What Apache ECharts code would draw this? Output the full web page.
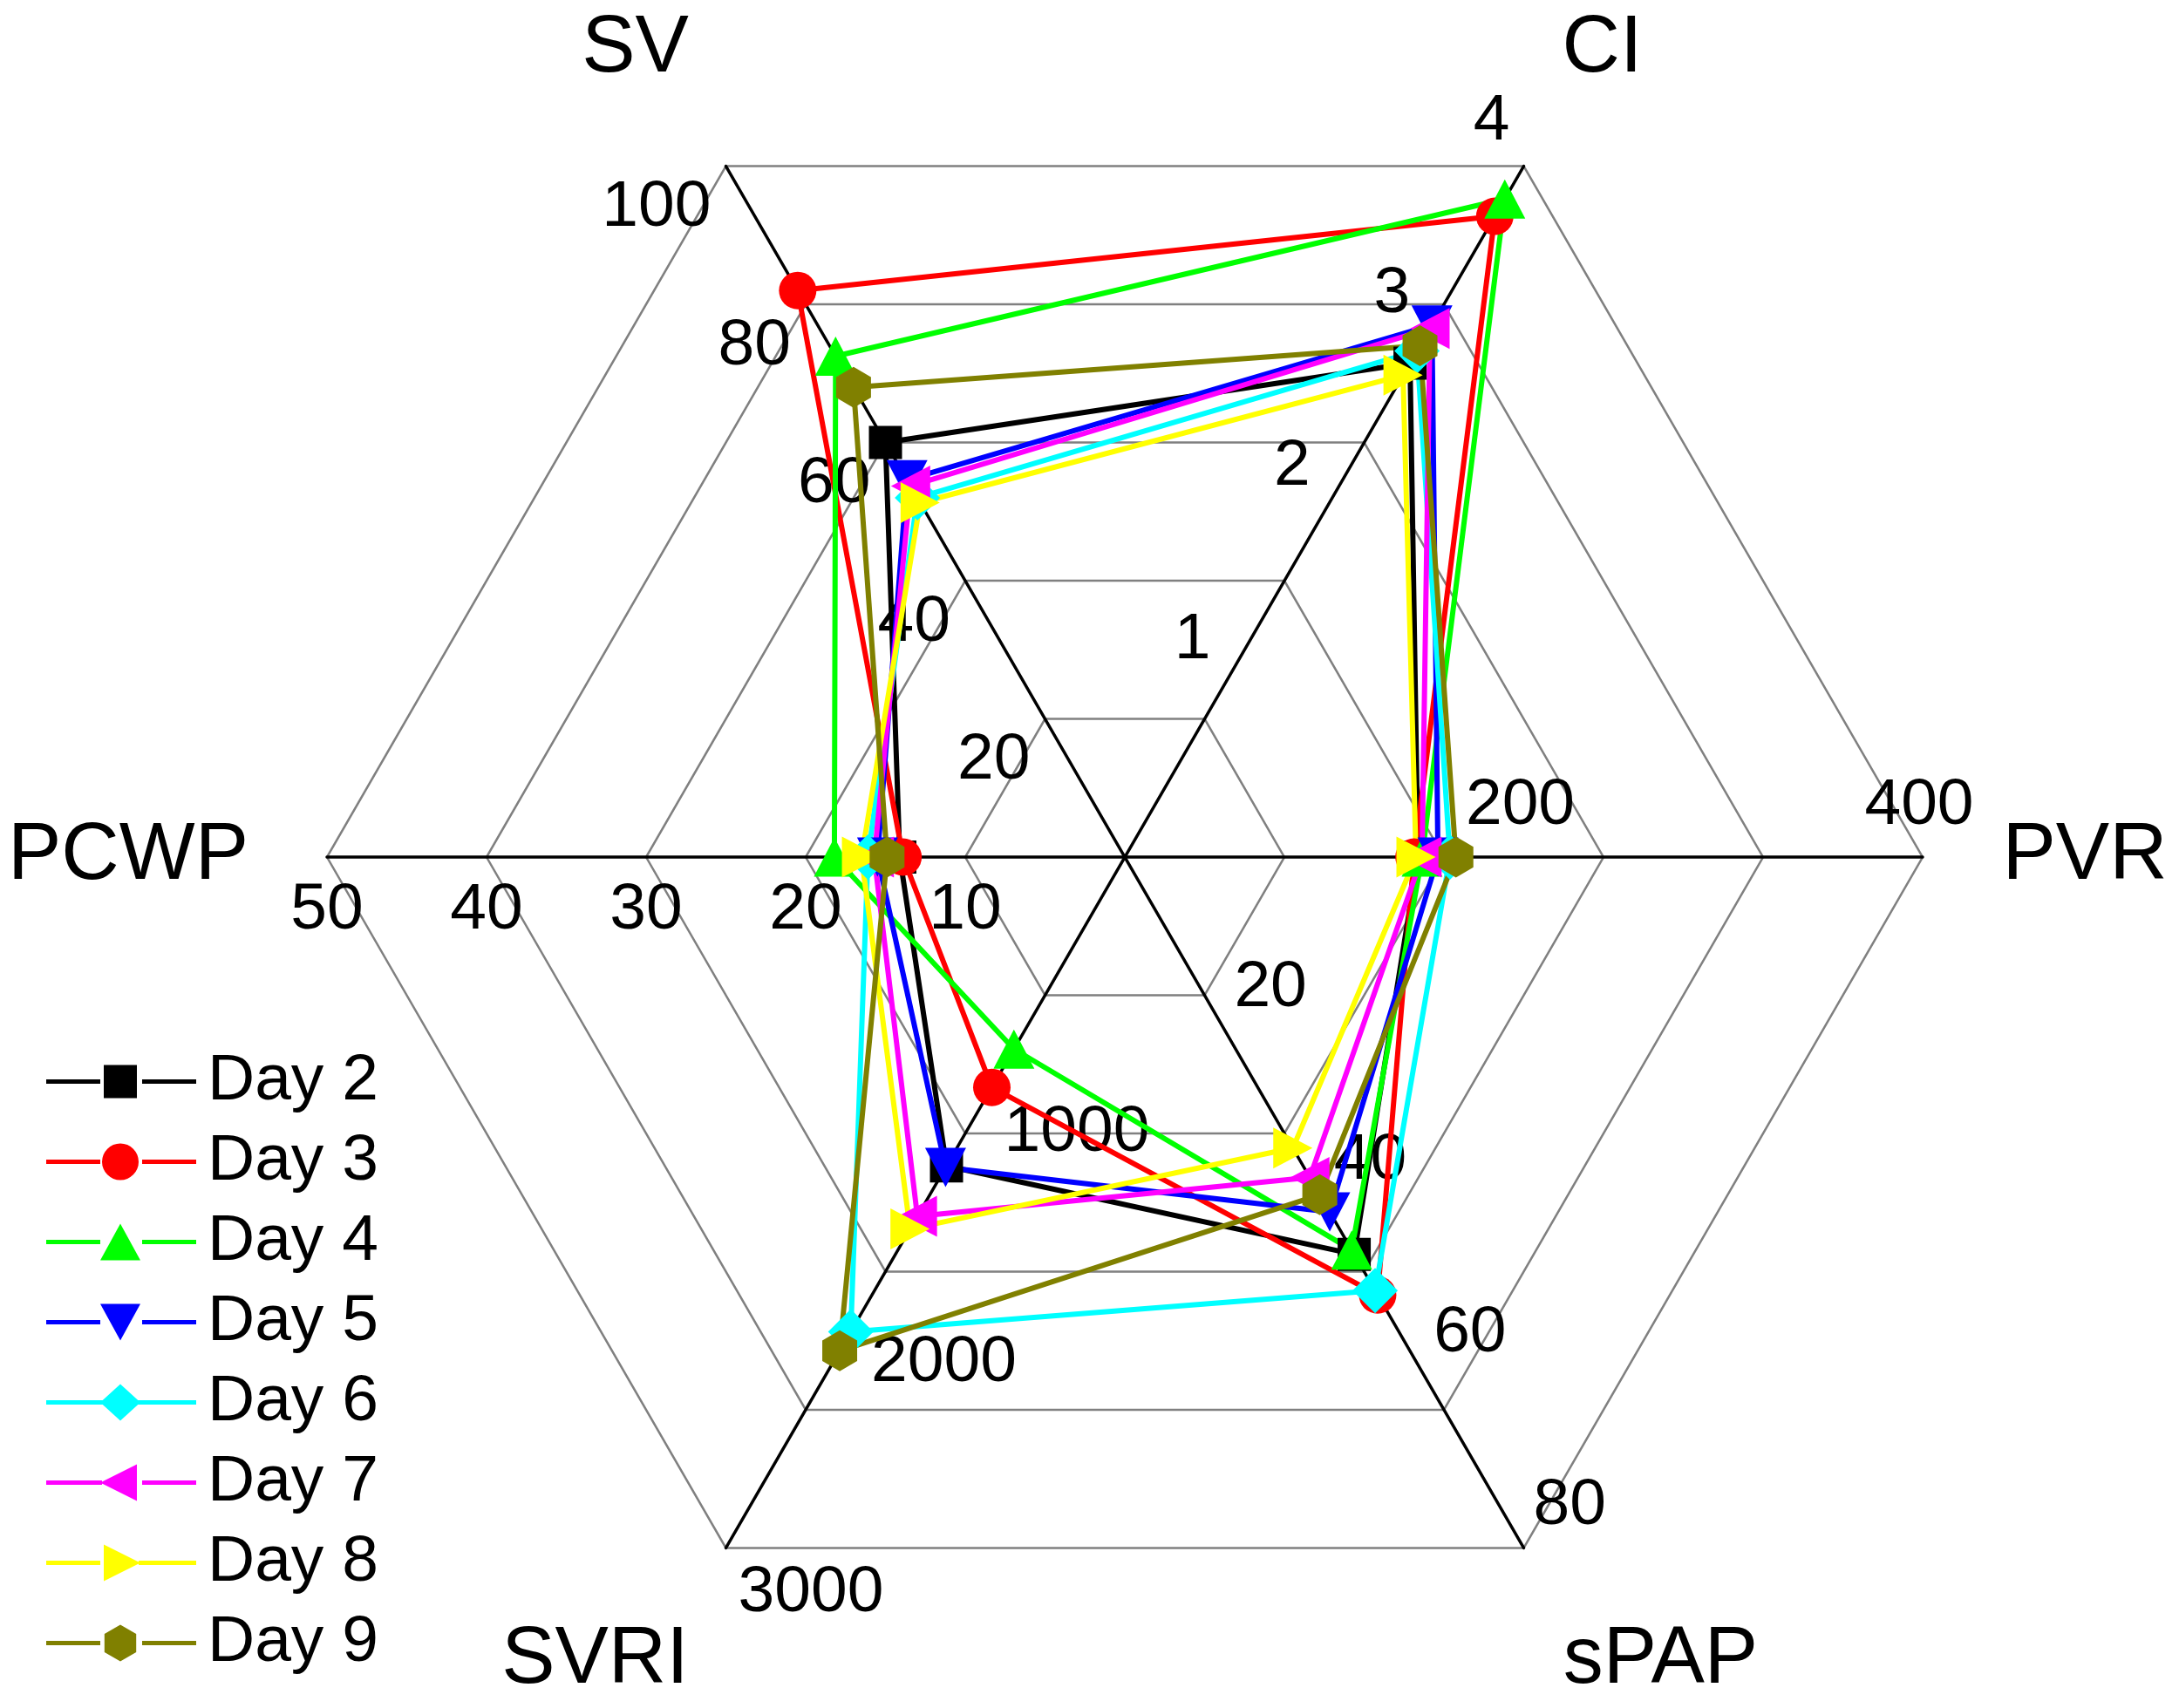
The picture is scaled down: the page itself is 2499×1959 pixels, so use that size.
<!DOCTYPE html>
<html><head><meta charset="utf-8">
<script src="https://cdn.jsdelivr.net/npm/echarts@6/dist/echarts.min.js"></script>
<style>html,body{margin:0;padding:0;background:#fff}#chart{width:2499px;height:1959px}</style>
</head><body><div id="chart"></div>
<script>
// ---- data ----
const indicatorNames = ['PVR', 'CI', 'SV', 'PCWP', 'SVRI', 'sPAP'];
const indicatorMax = [400, 4, 100, 50, 3000, 80];
const days = ['Day 2', 'Day 3', 'Day 4', 'Day 5', 'Day 6', 'Day 7', 'Day 8', 'Day 9'];
const pvr  = [147, 145, 149, 157, 163, 149, 146, 166];
const ci   = [2.86, 3.71, 3.81, 3.08, 2.93, 3.06, 2.79, 2.96];
const sv   = [60, 82, 72.5, 54.6, 52, 53.7, 51.3, 68];
const pcwp = [14.1, 13.9, 18.2, 15.5, 16.1, 15.7, 16.5, 14.9];
const svri = [1341, 1000, 834, 1348, 2061, 1560, 1615, 2144];
const spap = [46, 50.7, 45.5, 41.1, 50.2, 37.1, 33.7, 39.1];

// ---- styles ----
const FONT = '"Liberation Sans", Arial, sans-serif';
const LABEL_SIZE = 75, NAME_SIZE = 92;
const colors = ['#000000', '#FF0000', '#00FF00', '#0000FF', '#00FFFF', '#FF00FF', '#FFFF00', '#808000'];
const HEX = 'path://M0,-1L0.866,-0.5L0.866,0.5L0,1L-0.866,0.5L-0.866,-0.5Z';
const symbols = ['rect', 'circle', 'triangle', 'triangle', 'diamond', 'triangle', 'triangle', HEX];
const symRot = [0, 0, 0, 180, 0, 90, -90, 0];
const symSize = [[38, 38], 43, [47, 45], [47, 45], [52, 52], [47, 45], [47, 45], [40, 47]];
const LINES = 'M0,18.5H62V23.5H0Z M110,18.5H172V23.5H110Z ';
const legendMarks = [
  'M66,2H104V40H66Z',
  'M64,21A21,21 0 1,1 106,21A21,21 0 1,1 64,21Z',
  'M85,0L108,42H62Z',
  'M62,0H108L85,42Z',
  'M85,0L108,21L85,42L62,21Z',
  'M62,21L104,0V42Z',
  'M66,0L108,21L66,42Z',
  'M85,0L103.2,10.5L103.2,31.5L85,42L66.8,31.5L66.8,10.5Z'
];
const legendLines = [
  LINES, LINES, LINES, LINES, 'M0,18.5H172V23.5H0Z ',
  'M0,18.5H64V23.5H0Z M110,18.5H172V23.5H110Z ',
  'M0,18.5H62V23.5H0Z M106,18.5H172V23.5H106Z ', LINES
];

// which overlay radar carries each axis's tick labels (radar k has splitNumbers[k])
const splitNumbers = [5, 4, 3, 2];
const labelRadarOf = [3, 1, 0, 0, 2, 1];
// label placement per axis: [align, dx, dy] (screen offset of text centre from tick point)
const labelPlace = [['center', -4, -59], ['right', -16, -51], ['right', -17, 48],
                    ['center', 0, 61], ['left', 14, 52], ['left', 11, -48]];
const namePlace = [[186, 2], [90, -134], [-104, -134], [-228, 2], [-150, 129], [157, 129]];

function place(align, dx, dy, h) {
  let top = 0, bottom = 0, left = 0, right = 0, va = 'middle';
  if (dy > h / 2) { va = 'top'; top = dy - h / 2; }
  else if (dy < -h / 2) { va = 'bottom'; bottom = -dy - h / 2; }
  if (align === 'center') { left = dx > 0 ? 2 * dx : 0; right = dx < 0 ? -2 * dx : 0; }
  else if (align === 'right') { right = Math.max(0, -dx); }
  else { left = Math.max(0, dx); }
  return { align: align, verticalAlign: va, padding: [top, right, bottom, left] };
}
const fmt = function (v) { return v === 0 ? '' : String(+(+v).toFixed(4)); };

function makeRadar(k) {
  const main = k === 0;
  return {
    center: [1290, 983], radius: 915, startAngle: 0, splitNumber: splitNumbers[k], shape: 'polygon',
    axisNameGap: 0,
    axisName: main ? { show: true, color: '#000', fontSize: NAME_SIZE, fontFamily: FONT } : { show: false },
    axisLine: main ? { show: true, lineStyle: { color: '#000', width: 3.5 } } : { show: false },
    splitLine: main ? { show: true, lineStyle: { color: '#808080', width: 2.5 } } : { show: false },
    splitArea: { show: false },
    axisTick: { show: false },
    axisLabel: { show: false, margin: 0, fontSize: LABEL_SIZE, color: '#000', fontFamily: FONT,
                 showMinLabel: false, showMaxLabel: true, formatter: fmt },
    indicator: indicatorNames.map(function (n, i) {
      const ind = { name: n, min: 0, max: indicatorMax[i] };
      if (labelRadarOf[i] === k) {
        const p = labelPlace[i];
        ind.axisLabel = Object.assign({ show: true }, place(p[0], p[1], p[2], LABEL_SIZE));
      }
      if (main) {
        ind.nameTextStyle = place('center', namePlace[i][0], namePlace[i][1], NAME_SIZE);
      }
      return ind;
    })
  };
}

const series = days.map(function (d, i) {
  return {
    type: 'radar', name: d, radarIndex: 0,
    symbol: symbols[i], symbolSize: symSize[i], symbolRotate: symRot[i],
    lineStyle: { color: colors[i], width: 6 },
    itemStyle: { color: colors[i], borderWidth: 0 },
    emphasis: { disabled: true },
    data: [{ name: d, value: [pvr[i], ci[i], sv[i], pcwp[i], svri[i], spap[i]] }]
  };
});

const chart = echarts.init(document.getElementById('chart'), null, { renderer: 'canvas' });
chart.setOption({
  animation: false,
  backgroundColor: '#ffffff',
  radar: splitNumbers.map(function (s, k) { return makeRadar(k); }),
  legend: {
    orient: 'vertical', left: 48, top: 1198, itemWidth: 172, itemHeight: 42, itemGap: 17,
    selectedMode: false,
    textStyle: { fontSize: LABEL_SIZE, color: '#000', fontFamily: FONT, padding: [0, 0, 0, 8] },
    itemStyle: { borderWidth: 0 },
    data: days.map(function (d, i) { return { name: d, icon: 'path://' + legendLines[i] + legendMarks[i] }; })
  },
  series: series
});
</script></body></html>
